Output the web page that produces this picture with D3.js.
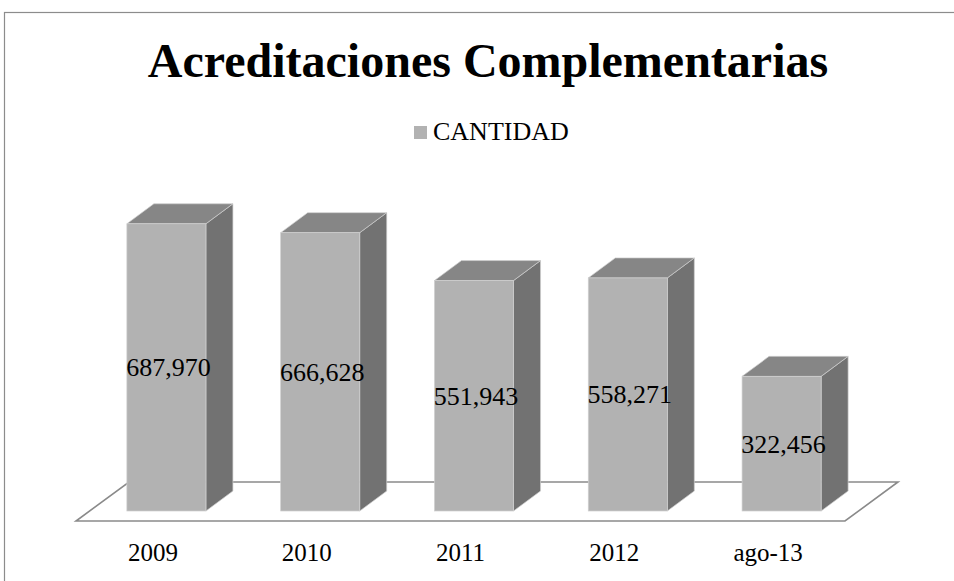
<!DOCTYPE html>
<html>
<head>
<meta charset="utf-8">
<script src="https://cdn.jsdelivr.net/npm/d3@7"></script>
<style>
  html, body { margin: 0; padding: 0; background: #ffffff; }
  svg { display: block; }
  text { font-family: "Liberation Serif", Tinos, "Times New Roman", serif; }
</style>
</head>
<body>
<svg id="chart" width="954" height="581"></svg>
<script>
// ---- data ----
const categories = ["2009", "2010", "2011", "2012", "ago-13"];
const values = [687970, 666628, 551943, 558271, 322456];
const valueLabels = ["687,970", "666,628", "551,943", "558,271", "322,456"];
const seriesName = "CANTIDAD";
const title = "Acreditaciones Complementarias";

// ---- layout ----
const svg = d3.select("#chart");
const floorFront = { x0: 76, x1: 845, y: 521 };
const floorDepth = { dx: 53, dy: 39 };
const barDepth = { dx: 27, dy: 20 };
const barOffset = { dx: 13.5, dy: 10 };
const FONT = '"Liberation Serif", Tinos, "Times New Roman", serif';

const x = d3.scaleBand()
  .domain(categories)
  .range([floorFront.x0, floorFront.x1])
  .paddingInner(0.486)
  .paddingOuter(0.243);

const baseY = floorFront.y - barOffset.dy;
const y = d3.scaleLinear().domain([0, 800000]).range([baseY, baseY - 334]);

// chart border
svg.append("rect")
  .attr("x", 4.5).attr("y", 12.5)
  .attr("width", 1000).attr("height", 1000)
  .attr("fill", "none").attr("stroke", "#8c8c8c").attr("stroke-width", 1.2);

// title
svg.append("text")
  .attr("x", 488).attr("y", 77)
  .attr("text-anchor", "middle")
  .style("font-family", FONT)
  .style("font-weight", "bold")
  .style("font-size", "48px")
  .attr("fill", "#000")
  .text(title);

// legend
const lg = svg.append("g");
lg.append("rect").attr("x", 414).attr("y", 126).attr("width", 13).attr("height", 13).attr("fill", "#b2b2b2");
lg.append("text")
  .attr("x", 433).attr("y", 140)
  .style("font-family", FONT)
  .style("font-size", "26px")
  .attr("fill", "#000")
  .text(seriesName);

// floor
const fp = [
  [floorFront.x0, floorFront.y],
  [floorFront.x1, floorFront.y],
  [floorFront.x1 + floorDepth.dx, floorFront.y - floorDepth.dy],
  [floorFront.x0 + floorDepth.dx, floorFront.y - floorDepth.dy]
];
svg.append("polygon")
  .attr("points", fp.map(p => p.join(",")).join(" "))
  .attr("fill", "#ffffff")
  .attr("stroke", "#8a8a8a")
  .attr("stroke-width", 1.6);

// bars
const bars = svg.append("g").selectAll("g")
  .data(categories.map((c, i) => ({ c, v: values[i], label: valueLabels[i] })))
  .join("g");

bars.each(function (d) {
  const g = d3.select(this);
  const x0 = x(d.c) + barOffset.dx;
  const x1 = x0 + x.bandwidth();
  const yt = y(d.v), yb = y(0);
  const dx = barDepth.dx, dy = barDepth.dy;
  const pts = a => a.map(p => p.join(",")).join(" ");
  g.append("polygon")
    .attr("points", pts([[x1, yt], [x1 + dx, yt - dy], [x1 + dx, yb - dy], [x1, yb]]))
    .attr("fill", "#727272").attr("stroke", "#cfcfcf").attr("stroke-width", 0.7);
  g.append("polygon")
    .attr("points", pts([[x0, yt], [x0 + dx, yt - dy], [x1 + dx, yt - dy], [x1, yt]]))
    .attr("fill", "#868686").attr("stroke", "#cfcfcf").attr("stroke-width", 0.7);
  g.append("rect")
    .attr("x", x0).attr("y", yt)
    .attr("width", x1 - x0).attr("height", yb - yt)
    .attr("fill", "#b2b2b2").attr("stroke", "#cfcfcf").attr("stroke-width", 0.7);
  g.append("text")
    .attr("x", (x0 + x1) / 2 + 2)
    .attr("y", (yt + yb) / 2 + 9)
    .attr("text-anchor", "middle")
    .style("font-family", FONT)
    .style("font-size", "26px")
    .attr("fill", "#000")
    .text(d.label);
});

// category axis labels
svg.append("g").selectAll("text")
  .data(categories)
  .join("text")
  .attr("x", d => x(d) + x.bandwidth() / 2)
  .attr("y", 561)
  .attr("text-anchor", "middle")
  .style("font-family", FONT)
  .style("font-size", "25px")
  .attr("fill", "#000")
  .text(d => d);
</script>
</body>
</html>
